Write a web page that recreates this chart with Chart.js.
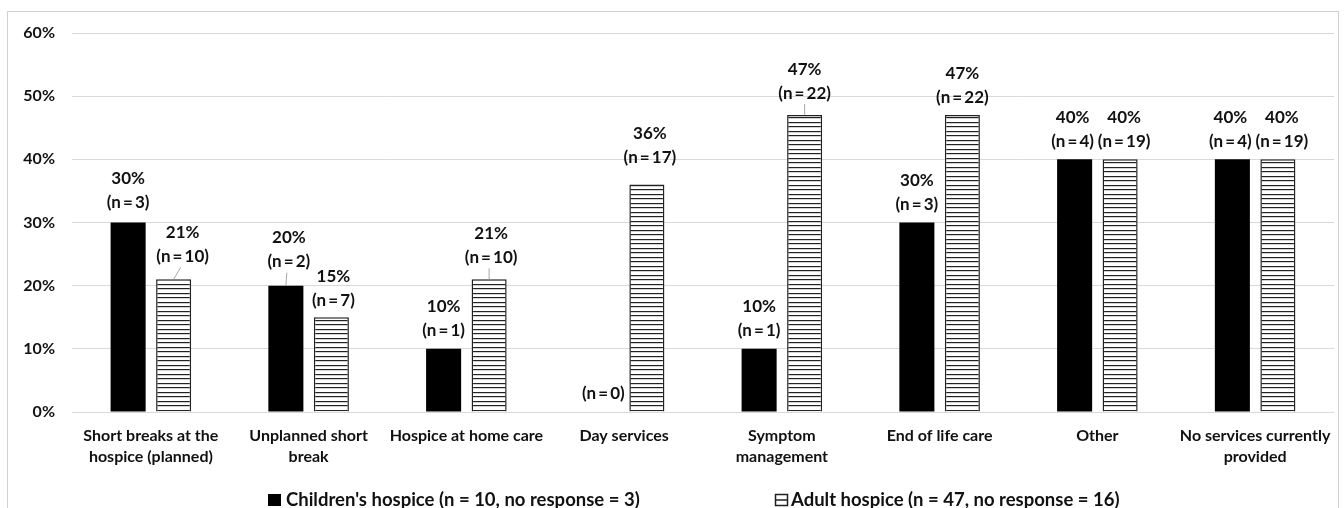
<!DOCTYPE html>
<html>
<head>
<meta charset="utf-8">
<script src="https://cdn.jsdelivr.net/npm/chart.js@4.4.1/dist/chart.umd.min.js"></script>
<style>
  html, body { margin: 0; padding: 0; background: #fff; }
  #wrap { width: 1344px; height: 508px; position: relative; }
</style>
</head>
<body>
<div id="wrap"><canvas id="servicesChart"></canvas></div>
<script>
const categories = [
  ["Short breaks at the", "hospice (planned)"],
  ["Unplanned short", "break"],
  "Hospice at home care",
  "Day services",
  ["Symptom", "management"],
  "End of life care",
  "Other",
  ["No services currently", "provided"]
];

const childrenPct = [30, 20, 10, 0, 10, 30, 40, 40];
const childrenN = [3, 2, 1, 0, 1, 3, 4, 4];
const adultPct = [21, 15, 21, 36, 47, 47, 40, 40];
const adultN = [10, 7, 10, 17, 22, 22, 19, 19];

const yTicks = [0, 10, 20, 30, 40, 50, 60];

const legendLabels = [
  "Children's hospice (n = 10, no response = 3)",
  "Adult hospice (n = 47, no response = 16)"
];

const FONT = "Lato, 'Open Sans', sans-serif";
const TEXT = "#111";
const THIN = "\u2009";

// hand-moved labels (dx, dy, leader line), like in the original workbook
const labelMoves = {
  "0-0": { dx: 0, dy: -2 },
  "1-0": { dx: 9, dy: -5, leader: true },
  "0-1": { dx: 3, dy: -6, leader: true },
  "1-1": { dx: 2, dy: 1 },
  "1-2": { dx: 2, dy: -4, leader: true },
  "0-3": { dx: 2, dy: 0 },
  "1-3": { dx: 3, dy: -9 },
  "1-4": { dx: 0, dy: -4, leader: true },
  "0-6": { dx: -2, dy: 0 },
  "1-6": { dx: 4, dy: 0 },
  "0-7": { dx: -2, dy: 0 },
  "1-7": { dx: 4, dy: 0 }
};

const makeStripes = () => {
  const c = document.createElement("canvas");
  c.width = 8;
  c.height = 9;
  const g = c.getContext("2d");
  g.fillStyle = "#fff";
  g.fillRect(0, 0, 8, 9);
  g.fillStyle = "#222";
  g.fillRect(0, 0, 8, 1.2);
  g.fillRect(0, 5, 8, 1.2);
  return g.createPattern(c, "repeat");
};

const barLabels = {
  id: "barLabels",
  afterDatasetsDraw(chart) {
    const ctx = chart.ctx;
    const nLists = [childrenN, adultN];
    ctx.save();
    ctx.font = "bold 17px " + FONT;
    ctx.fillStyle = TEXT;
    ctx.textAlign = "center";
    ctx.textBaseline = "middle";
    chart.data.datasets.forEach((ds, di) => {
      chart.getDatasetMeta(di).data.forEach((bar, i) => {
        const mv = labelMoves[di + "-" + i] || { dx: 0, dy: 0 };
        const x = bar.x + mv.dx;
        const y2 = bar.y - 18 + mv.dy;
        if (mv.leader) {
          ctx.strokeStyle = "#a6a6a6";
          ctx.lineWidth = 1;
          ctx.beginPath();
          ctx.moveTo(bar.x, bar.y);
          ctx.lineTo(x - (mv.dx ? 2 : 0), y2 + 11);
          ctx.stroke();
        }
        ctx.fillText("(n" + THIN + "=" + THIN + nLists[di][i] + ")", x, y2);
        if (ds.data[i] > 0) {
          ctx.fillText(ds.data[i] + "%", x, y2 - 24);
        }
      });
    });
    ctx.restore();
  }
};

const frameAndLegend = {
  id: "frameAndLegend",
  beforeDraw(chart) {
    const ctx = chart.ctx;
    ctx.save();
    ctx.strokeStyle = "#d0d0d0";
    ctx.lineWidth = 1;
    ctx.strokeRect(7.5, 11.5, 1331, 520);
    ctx.restore();
  },
  afterDraw(chart) {
    const ctx = chart.ctx;
    ctx.save();
    ctx.font = "bold 18.5px " + FONT;
    ctx.fillStyle = TEXT;
    ctx.textBaseline = "middle";
    const y = 500;
    // children swatch
    ctx.fillStyle = "#000";
    ctx.fillRect(268, y - 6, 13, 12);
    ctx.fillStyle = TEXT;
    ctx.fillText(legendLabels[0], 286, y);
    // adult swatch
    ctx.strokeStyle = "#222";
    ctx.lineWidth = 1.5;
    ctx.strokeRect(775.5, y - 5.5, 12, 11);
    ctx.beginPath();
    ctx.moveTo(775.5, y);
    ctx.lineTo(787.5, y);
    ctx.stroke();
    ctx.fillText(legendLabels[1], 791, y);
    ctx.restore();
  }
};

const initChart = () => {
  const canvas = document.getElementById("servicesChart");
  const ctx = canvas.getContext("2d");

  new Chart(ctx, {
    type: "bar",
    data: {
      labels: categories,
      datasets: [
        {
          label: legendLabels[0],
          data: childrenPct,
          backgroundColor: "#000",
          borderWidth: 0,
          categoryPercentage: 0.577,
          barPercentage: 0.77
        },
        {
          label: legendLabels[1],
          data: adultPct,
          backgroundColor: makeStripes(),
          borderColor: "#222",
          borderWidth: 1.5,
          categoryPercentage: 0.577,
          barPercentage: 0.77
        }
      ]
    },
    options: {
      responsive: true,
      maintainAspectRatio: false,
      animation: false,
      layout: { padding: { top: 33, right: 10, bottom: 32, left: 0 } },
      plugins: {
        legend: { display: false },
        tooltip: { enabled: false }
      },
      scales: {
        x: {
          grid: { display: false },
          border: { display: false },
          ticks: {
            color: TEXT,
            font: { family: FONT, size: 16, weight: "bold", lineHeight: 1.32 },
            padding: 5,
            maxRotation: 0,
            autoSkip: false
          },
          afterFit: (scale) => { scale.height = 64; }
        },
        y: {
          min: yTicks[0],
          max: yTicks[yTicks.length - 1],
          afterBuildTicks: (scale) => {
            scale.ticks = yTicks.map((v) => ({ value: v }));
          },
          grid: { color: "#d9d9d9", lineWidth: 1, drawTicks: false },
          border: { display: false },
          ticks: {
            color: TEXT,
            font: { family: FONT, size: 16, weight: "bold" },
            padding: 17,
            callback: (v) => v + "%"
          },
          afterFit: (scale) => { scale.width = 72; }
        }
      }
    },
    plugins: [barLabels, frameAndLegend]
  });
};

document.addEventListener("DOMContentLoaded", initChart);
</script>
</body>
</html>
